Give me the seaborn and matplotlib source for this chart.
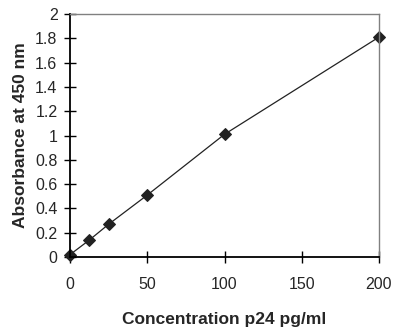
import matplotlib
matplotlib.use("Agg")
import matplotlib.pyplot as plt
import seaborn as sns
import pandas as pd

concentration = [0, 12.5, 25, 50, 100, 200]
absorbance = [0.02, 0.14, 0.27, 0.51, 1.01, 1.81]
x_ticks = [0, 50, 100, 150, 200]
y_ticks = [0, 0.2, 0.4, 0.6, 0.8, 1, 1.2, 1.4, 1.6, 1.8, 2]
y_tick_labels = ["0", "0.2", "0.4", "0.6", "0.8", "1", "1.2", "1.4", "1.6", "1.8", "2"]

sns.set_style("white")
plt.rcParams["font.family"] = ["Liberation Sans", "DejaVu Sans"]

df = pd.DataFrame({"conc": concentration, "abs": absorbance})

fig = plt.figure(figsize=(4.0, 3.33), dpi=100)
ax = fig.add_axes([0.175, 0.228, 0.7725, 0.730])

sns.lineplot(data=df, x="conc", y="abs", ax=ax, color="#222222", linewidth=0.9,
             marker="D", markersize=6.5, markeredgecolor="#222222",
             markerfacecolor="#222222")

ax.set_xlim(0, 200)
ax.set_ylim(0, 2)
ax.set_xticks(x_ticks)
ax.set_xticklabels([str(v) for v in x_ticks])
ax.set_yticks(y_ticks)
ax.set_yticklabels(y_tick_labels)

for s in ["left", "bottom"]:
    ax.spines[s].set_color("black")
    ax.spines[s].set_linewidth(1.3)
for s in ["top", "right"]:
    ax.spines[s].set_color("#808080")
    ax.spines[s].set_linewidth(1.0)
    ax.spines[s].set_visible(True)

ax.tick_params(axis="y", direction="inout", length=8, width=1.0, color="black",
               labelsize=11.5, pad=5, left=True)
ax.tick_params(axis="x", direction="inout", length=8, width=1.0, color="black",
               labelsize=11.5, pad=10, bottom=True)

ax.set_xlabel("Concentration p24 pg/ml", fontsize=12.5, fontweight="bold", labelpad=15)
ax.set_ylabel("Absorbance at 450 nm", fontsize=12.5, fontweight="bold", labelpad=5)

for m in ax.lines:
    m.set_clip_on(False)

fig.savefig("out.png", dpi=100, facecolor="white")
